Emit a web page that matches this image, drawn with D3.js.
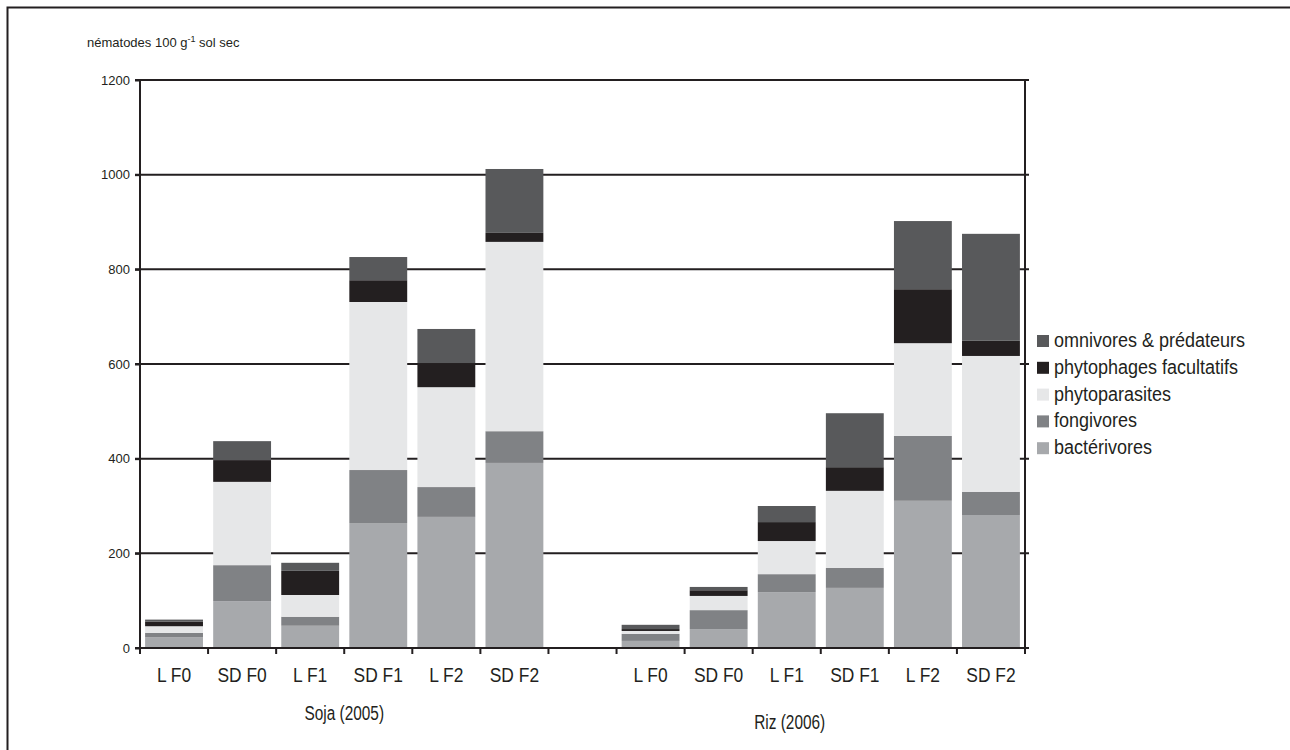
<!DOCTYPE html>
<html>
<head>
<meta charset="utf-8">
<script src="https://cdn.jsdelivr.net/npm/d3@7"></script>
<style>
  body { margin: 0; background: #fff; }
  svg { display: block; }
  text { font-family: "Liberation Sans", Arial, sans-serif; fill: #231f20; }
</style>
</head>
<body>
<svg id="chart"></svg>
<script>
// categories (an empty slot sits between the two campaigns)
const groups = ['Soja (2005)', 'Riz (2006)'];
const treatments = ['L F0', 'SD F0', 'L F1', 'SD F1', 'L F2', 'SD F2'];

// series values, nématodes 100 g-1 sol sec
const bacterivores = [23, 99, 47, 264, 277, 391,   15, 40, 118, 127, 311, 281];
const fongivores   = [9, 76, 19, 112, 63, 67,      15, 40, 38, 42, 137, 49];
const phytoparasites = [14, 176, 46, 355, 211, 400, 6, 30, 70, 163, 196, 287];
const phytophagesFac = [10, 46, 51, 46, 51, 19,    4, 12, 40, 50, 114, 32];
const omnivores    = [4, 40, 17, 49, 72, 135,      9, 7, 34, 114, 144, 226];

const seriesNames = ['bactérivores', 'fongivores', 'phytoparasites', 'phytophages facultatifs', 'omnivores & prédateurs'];
const seriesColors = ['#a7a9ac', '#808285', '#e6e7e8', '#231f20', '#58595b'];
const yTicks = [0, 200, 400, 600, 800, 1000, 1200];

// build rows for d3.stack
const slots = [];
treatments.forEach((t, i) => slots.push({ key: 'a' + i, label: t, idx: i }));
slots.push({ key: 'gap', label: '', idx: -1 });
treatments.forEach((t, i) => slots.push({ key: 'b' + i, label: t, idx: i + 6 }));

const seriesArrays = [bacterivores, fongivores, phytoparasites, phytophagesFac, omnivores];
const rows = slots.filter(s => s.idx >= 0).map(s => {
    const row = { key: s.key };
    seriesNames.forEach((n, j) => { row[n] = seriesArrays[j][s.idx]; });
    return row;
});
const stacked = d3.stack().keys(seriesNames)(rows);

const W = 1290, H = 750;
const margin = { top: 80, right: 265, bottom: 102, left: 140 };
const width = W - margin.left - margin.right;
const height = H - margin.top - margin.bottom;

// the original uses a condensed face; squeeze the regular one
function narrow(sel, k) {
    sel.each(function() {
        const len = this.getComputedTextLength();
        d3.select(this).attr('textLength', len * k).attr('lengthAdjust', 'spacingAndGlyphs');
    });
}

const svg = d3.select('#chart').attr('width', W).attr('height', H);

// outer frame (only left and top visible)
svg.append('rect')
    .attr('x', 7.5).attr('y', 7.5)
    .attr('width', W + 20).attr('height', H + 20)
    .attr('fill', 'none').attr('stroke', '#231f20').attr('stroke-width', 2);

const g = svg.append('g').attr('transform', `translate(${margin.left},${margin.top})`);

const x = d3.scaleBand()
    .domain(slots.map(s => s.key))
    .range([0, width])
    .paddingInner(0.15)
    .paddingOuter(0.075);

const y = d3.scaleLinear().domain([0, 1200]).range([height, 0]);

// gridlines with outside ticks on both sides
g.append('g').selectAll('line')
    .data(yTicks.filter(d => d > 0))
    .enter().append('line')
    .attr('x1', -5).attr('x2', width + 4)
    .attr('y1', d => y(d)).attr('y2', d => y(d))
    .attr('stroke', '#231f20').attr('stroke-width', 2);

// bars
g.selectAll('.layer')
    .data(stacked)
    .enter().append('g')
    .attr('class', 'layer')
    .attr('fill', (d, i) => seriesColors[i])
    .selectAll('rect')
    .data(d => d)
    .enter().append('rect')
    .attr('x', d => x(d.data.key))
    .attr('y', d => y(d[1]))
    .attr('height', d => y(d[0]) - y(d[1]))
    .attr('width', x.bandwidth());

// left axis
const yAxis = g.append('g')
    .call(d3.axisLeft(y).tickValues(yTicks).tickSize(5).tickFormat(d3.format('d')));
yAxis.select('.domain').remove();
yAxis.selectAll('.tick line').attr('stroke', '#231f20').attr('stroke-width', 2);
yAxis.selectAll('.tick text').attr('x', -10).style('font-size', '13px');
g.append('line')
    .attr('x1', 0).attr('x2', 0).attr('y1', y(1200) - 1).attr('y2', height + 6)
    .attr('stroke', '#231f20').attr('stroke-width', 2);

// right axis line
g.append('line')
    .attr('x1', width).attr('x2', width).attr('y1', y(1200) - 1).attr('y2', height + 6)
    .attr('stroke', '#231f20').attr('stroke-width', 2);

// bottom axis, ticks at band boundaries
g.append('line')
    .attr('x1', -5).attr('x2', width + 4).attr('y1', height).attr('y2', height)
    .attr('stroke', '#231f20').attr('stroke-width', 2);
const boundaries = slots.map(s => x(s.key) - x.step() * x.paddingInner() / 2);
boundaries.push(width);
g.append('g').selectAll('line')
    .data(boundaries)
    .enter().append('line')
    .attr('x1', d => d).attr('x2', d => d)
    .attr('y1', height).attr('y2', height + 6)
    .attr('stroke', '#231f20').attr('stroke-width', 2);

// category labels
g.append('g').selectAll('text')
    .data(slots.filter(s => s.label))
    .enter().append('text')
    .attr('x', d => x(d.key) + x.bandwidth() / 2)
    .attr('y', height + 34)
    .attr('text-anchor', 'middle')
    .style('font-size', '20px')
    .text(d => d.label)
    .call(narrow, 0.87);

// group labels
g.append('text')
    .attr('x', x('a3') - x.step() * 0.075)
    .attr('y', height + 72)
    .attr('text-anchor', 'middle')
    .style('font-size', '20px')
    .text(groups[0])
    .call(narrow, 0.77);
g.append('text')
    .attr('x', x('b2') + x.bandwidth() / 2 + 3)
    .attr('y', height + 81)
    .attr('text-anchor', 'middle')
    .style('font-size', '20px')
    .text(groups[1])
    .call(narrow, 0.77);

// y title
const title = svg.append('text')
    .attr('x', 87).attr('y', 47)
    .style('font-size', '13px');
title.append('tspan').text('nématodes 100 g');
title.append('tspan').attr('dy', -5).style('font-size', '9px').text('-1');
title.append('tspan').attr('dy', 5).text(' sol sec');

// legend, top entry first
const legend = svg.append('g').attr('transform', `translate(1037, 335)`);
const legendItem = legend.selectAll('.legend-item')
    .data(seriesNames.slice().reverse())
    .enter().append('g')
    .attr('class', 'legend-item')
    .attr('transform', (d, i) => `translate(0, ${i * 26.8})`);
legendItem.append('rect')
    .attr('width', 12).attr('height', 12)
    .attr('fill', d => seriesColors[seriesNames.indexOf(d)]);
legendItem.append('text')
    .attr('x', 17).attr('y', 12)
    .style('font-size', '20px')
    .text(d => d)
    .call(narrow, 0.9);
</script>
</body>
</html>
